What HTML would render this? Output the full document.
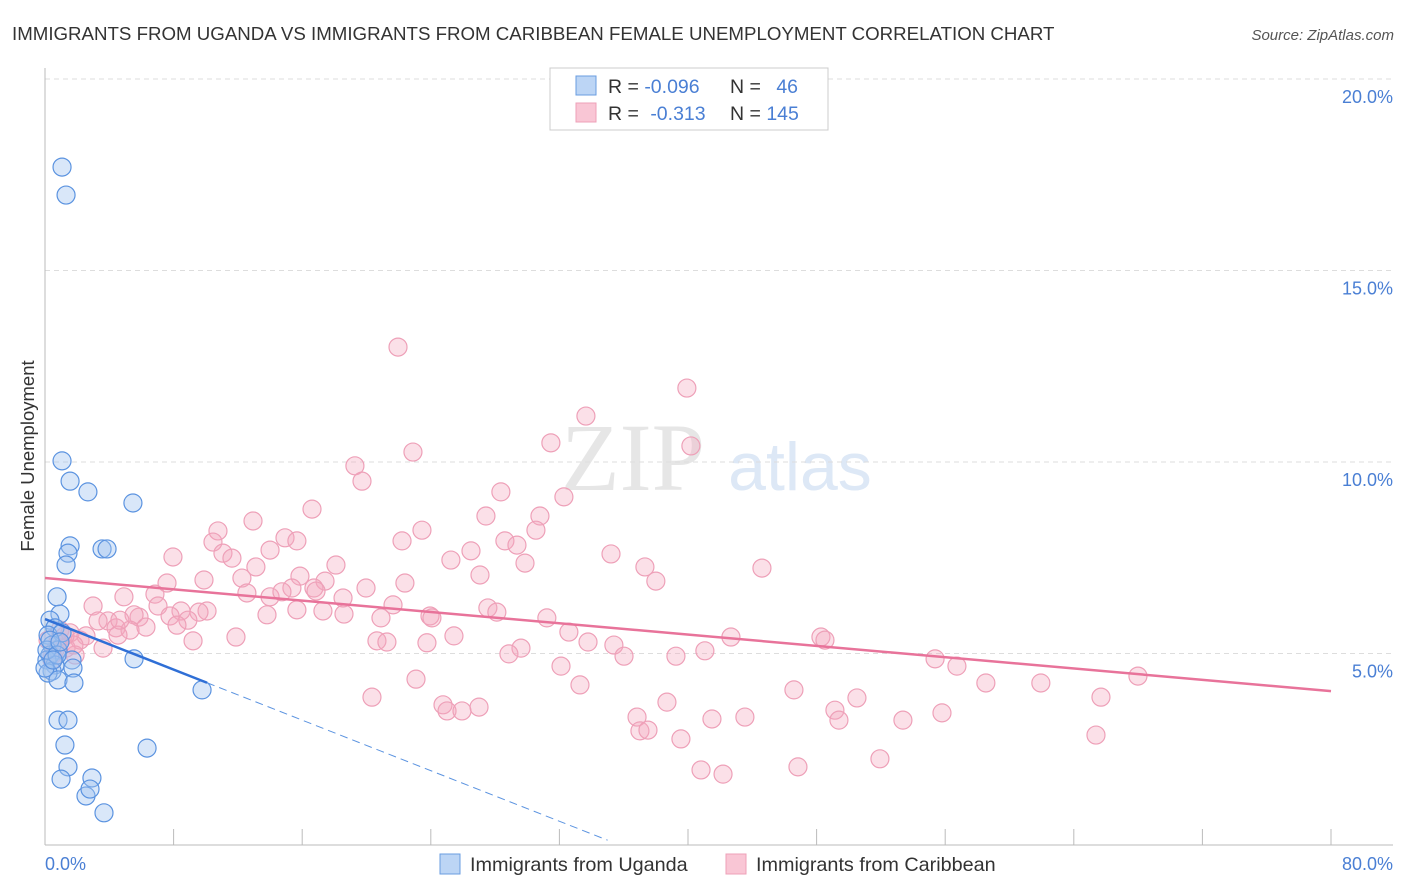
<!DOCTYPE html>
<html><head><meta charset="utf-8">
<style>
body{margin:0;background:#fff;font-family:"Liberation Sans",sans-serif;}
svg{display:block}
</style></head>
<body>
<svg id="chart" width="1406" height="892">
<text x="12" y="40" font-size="18.7" fill="#333">IMMIGRANTS FROM UGANDA VS IMMIGRANTS FROM CARIBBEAN FEMALE UNEMPLOYMENT CORRELATION CHART</text>
<text x="1394" y="40" font-size="15" fill="#555" font-style="italic" text-anchor="end">Source: ZipAtlas.com</text>
<text x="633" y="490" font-size="96" fill="#e6e6e6" font-family="Liberation Serif,serif" text-anchor="middle">ZIP</text>
<text x="800" y="490" font-size="68" fill="#dde8f6" text-anchor="middle">atlas</text>
<g id="grid"></g>
<g id="axes"></g>
<g id="marks"></g>
<text transform="translate(34,456) rotate(-90)" font-size="18.5" fill="#333" text-anchor="middle">Female Unemployment</text>
<text x="45" y="870" font-size="18" fill="#4a7fd4">0.0%</text>
<text x="1393" y="870" font-size="18" fill="#4a7fd4" text-anchor="end">80.0%</text>
<g>
<rect x="550" y="68" width="278" height="62" fill="#fff" stroke="#ccc"/>
<rect x="576" y="76" width="20" height="19" fill="#bcd5f5" stroke="#6a9de0"/>
<rect x="576" y="103" width="20" height="19" fill="#f9c6d5" stroke="#eea0b8"/>
<text x="608" y="93" font-size="19.5" fill="#333">R = <tspan fill="#4a7fd4">-0.096</tspan></text>
<text x="730" y="93" font-size="19.5" fill="#333">N = <tspan fill="#4a7fd4" dx="10">46</tspan></text>
<text x="608" y="120" font-size="19.5" fill="#333">R = <tspan fill="#4a7fd4" dx="6">-0.313</tspan></text>
<text x="730" y="120" font-size="19.5" fill="#333">N = <tspan fill="#4a7fd4">145</tspan></text>
</g>
<g>
<rect x="440" y="854" width="20" height="20" fill="#bcd5f5" stroke="#6a9de0"/>
<text x="470" y="871" font-size="19.8" fill="#333">Immigrants from Uganda</text>
<rect x="726" y="854" width="20" height="20" fill="#f9c6d5" stroke="#eea0b8"/>
<text x="756" y="871" font-size="19.8" fill="#333">Immigrants from Caribbean</text>
</g>
</svg>
<script>
const yTicks=[5,10,15,20];
const yTickLabels=["5.0%","10.0%","15.0%","20.0%"];
const xTicks=[0,8,16,24,32,40,48,56,64,72,80];
const blueX=[1.06,1.31,1.06,1.56,2.67,5.47,1.56,1.43,1.31,3.55,3.86,0.75,0.93,0.31,0.62,0.19,1.06,0.44,0.81,0.31,0.12,0.62,1.68,0.44,0.19,0.81,1.74,1.80,5.54,9.77,0.81,1.43,1.24,6.35,1.43,1.00,2.92,2.55,2.80,3.67,0.12,0.31,0.75,0.0,0.93,0.50];
const blueY=[17.70,16.97,10.03,9.50,9.22,8.93,7.81,7.62,7.31,7.73,7.73,6.48,6.03,5.87,5.67,5.48,5.54,5.22,5.09,4.96,4.83,4.70,4.83,4.54,4.49,4.31,4.62,4.23,4.86,4.05,3.26,3.26,2.61,2.53,2.04,1.72,1.75,1.28,1.46,0.84,5.09,5.35,4.96,4.62,5.30,4.83];
const pinkX=[21.96,39.93,33.65,31.47,40.18,22.89,19.28,19.72,28.36,32.28,16.61,30.79,27.43,12.94,10.76,23.45,30.54,10.45,14.93,15.67,22.21,28.61,29.36,26.50,14.00,11.07,11.63,7.96,35.21,44.60,25.25,37.32,13.12,29.86,18.10,27.06,15.86,12.25,9.89,38.00,22.39,7.59,17.42,16.73,6.84,15.36,12.56,14.00,14.74,16.86,18.54,19.97,4.91,2.99,7.03,21.65,27.55,28.11,23.95,10.08,8.46,15.67,17.29,7.78,9.58,31.22,18.60,24.07,20.90,13.81,5.85,5.54,8.89,8.21,3.92,3.30,4.42,5.29,6.28,0.93,1.56,2.18,2.55,4.54,4.66,11.88,20.65,21.27,9.21,23.76,25.44,32.59,33.78,35.39,42.67,48.27,48.52,29.61,28.86,36.02,39.25,41.05,3.61,1.87,1.31,0.62,1.80,0.44,55.37,56.73,32.10,23.08,33.28,58.53,61.95,67.99,20.34,46.59,50.51,38.69,65.69,24.76,25.01,25.94,27.00,49.14,49.39,36.83,41.49,43.54,53.37,55.80,37.01,37.51,39.56,65.38,51.94,40.81,42.18,46.84,0.19,0.81,1.24,0.44];
const pinkY=[13.00,11.93,11.20,10.50,10.42,10.26,9.90,9.50,9.22,9.09,8.77,8.59,8.59,8.46,8.20,8.22,8.22,7.91,8.02,7.94,7.94,7.94,7.83,7.68,7.70,7.62,7.49,7.52,7.60,7.23,7.44,7.26,7.26,7.36,7.31,7.05,7.02,6.97,6.92,6.89,6.84,6.84,6.89,6.71,6.55,6.71,6.58,6.48,6.61,6.63,6.45,6.71,6.48,6.24,6.24,6.27,6.19,6.08,5.98,6.11,6.11,6.14,6.11,5.98,6.08,5.93,6.03,5.93,5.93,6.01,5.95,6.01,5.87,5.74,5.85,5.85,5.67,5.61,5.69,5.61,5.54,5.35,5.46,5.48,5.87,5.43,5.33,5.30,5.33,5.28,5.46,5.56,5.30,5.22,5.43,5.43,5.35,5.14,4.99,4.93,4.93,5.07,5.14,4.96,5.14,5.09,5.22,4.83,4.86,4.67,4.67,4.33,4.18,4.23,4.23,4.41,3.86,4.05,3.84,3.73,3.86,3.66,3.50,3.50,3.60,3.52,3.26,3.34,3.29,3.34,3.26,3.45,2.98,3.00,2.77,2.87,2.25,1.96,1.85,2.04,5.35,5.30,5.46,4.96];
const blueTrend=[5.90,-0.165]; // intercept, slope
const pinkTrend=[6.97,-0.0369];
const blueSolidEnd=10.08, blueDashEnd=35.0;

const NS="http://www.w3.org/2000/svg";
const X0=45,X1=1331,Y0=845,Y20=79;
const sx=v=>X0+(X1-X0)*v/80;
const sy=v=>Y0-(Y0-Y20)*v/20;
function mk(tag,attrs,parent){const e=document.createElementNS(NS,tag);for(const k in attrs)e.setAttribute(k,attrs[k]);parent.appendChild(e);return e;}
const grid=document.getElementById('grid'),axes=document.getElementById('axes'),marks=document.getElementById('marks');
yTicks.forEach((t,i)=>{
  const l=mk('line',{x1:X0,x2:1393,y1:sy(t),y2:sy(t),stroke:'#ddd','stroke-dasharray':'5,4'},grid);
  
  
  const tx=mk('text',{x:1393,y:sy(t)+24,'font-size':18,fill:'#4a7fd4','text-anchor':'end'},axes);
  tx.textContent=yTickLabels[i];
  
  
});
const ax=mk('line',{x1:X0,x2:X0,y1:68,y2:Y0,stroke:'#bbb'},axes);


const bx=mk('line',{x1:X0,x2:1393,y1:Y0,y2:Y0,stroke:'#bbb'},axes);


xTicks.forEach(t=>{
  const l=mk('line',{x1:sx(t),x2:sx(t),y1:Y0,y2:Y0-16,stroke:'#bbb'},axes);
  
  
});
pinkX.forEach((x,i)=>{
  const c=mk('circle',{cx:sx(x),cy:sy(pinkY[i]),r:9,fill:'rgba(244,165,190,0.35)',stroke:'#eea0b8','stroke-width':1.2},marks);
  
  
});
blueX.forEach((x,i)=>{
  const c=mk('circle',{cx:sx(x),cy:sy(blueY[i]),r:9,fill:'rgba(160,196,240,0.4)',stroke:'#5b93e0','stroke-width':1.2},marks);
  
  
});
const pt=mk('line',{x1:sx(0),y1:sy(pinkTrend[0]),x2:sx(80),y2:sy(pinkTrend[0]+pinkTrend[1]*80),stroke:'#e8739a','stroke-width':2.5},marks);


const bt=mk('line',{x1:sx(0),y1:sy(blueTrend[0]),x2:sx(blueSolidEnd),y2:sy(blueTrend[0]+blueTrend[1]*blueSolidEnd),stroke:'#2f6fd6','stroke-width':2.5},marks);


const bd=mk('line',{x1:sx(blueSolidEnd),y1:sy(blueTrend[0]+blueTrend[1]*blueSolidEnd),x2:sx(blueDashEnd),y2:sy(blueTrend[0]+blueTrend[1]*blueDashEnd),stroke:'#5b93e0','stroke-width':1,'stroke-dasharray':'8,5'},marks);


</script>
</body></html>
